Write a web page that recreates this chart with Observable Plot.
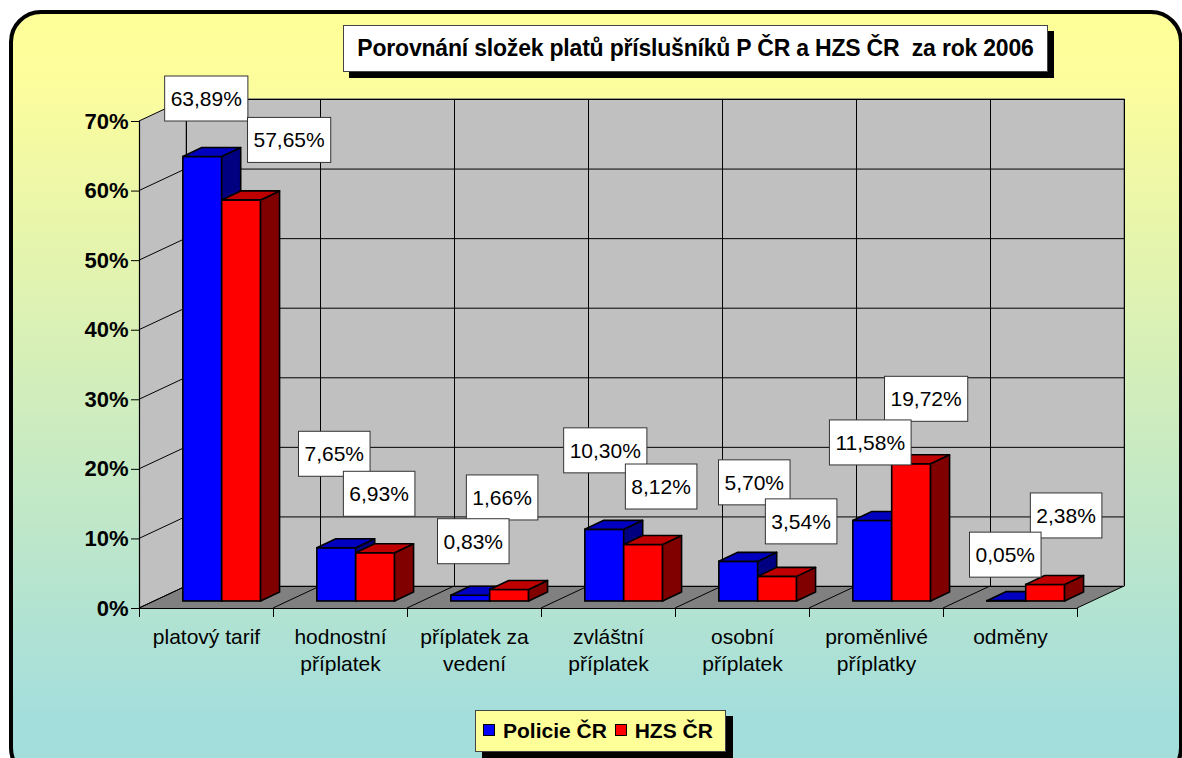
<!DOCTYPE html>
<html><head><meta charset="utf-8">
<script src="https://cdn.jsdelivr.net/npm/d3@7"></script>
<script src="https://cdn.jsdelivr.net/npm/@observablehq/plot@0.6"></script>
<style>
html,body{margin:0;padding:0;background:#fff;}
#wrap{position:relative;width:1182px;height:758px;overflow:hidden;background:#fff;font-family:"Liberation Sans",Arial,sans-serif;}
#frame{position:absolute;left:9px;top:10px;width:1174px;height:770px;box-sizing:border-box;border:4.5px solid #000;border-radius:32px;background:linear-gradient(to bottom,#ffff99 0%,#fdfd9c 8%,#a4dedc 92%,#a2dddc 100%);}
#chart{position:absolute;left:0;top:0;}
#title{position:absolute;left:343px;top:25px;width:705px;height:47px;box-sizing:border-box;background:#fff;border:1px solid #444;box-shadow:6px 6px 0 #000;font-weight:bold;font-size:23px;line-height:45px;text-align:center;white-space:pre;color:#000;letter-spacing:-0.2px;}
#legend{position:absolute;left:475px;top:710px;width:251px;height:42px;box-sizing:border-box;background:#ffff99;border:1px solid #444;box-shadow:7px 6px 0 #000;font-weight:bold;font-size:21px;line-height:40px;white-space:nowrap;color:#000;padding-left:7px;}
.sw{display:inline-block;width:10px;height:10px;border:1px solid #000;vertical-align:middle;margin-right:8px;position:relative;top:-2px;}
</style>
</head><body>
<div id="wrap">
  <div id="frame"></div>
  <div id="chart"></div>
  <div id="title"></div>
  <div id="legend"></div>
</div>
<script>
// ---- data ----
const categories = ["platový tarif","hodnostní\npříplatek","příplatek za\nvedení","zvláštní\npříplatek","osobní\npříplatek","proměnlivé\npříplatky","odměny"];
const seriesNames = ["Policie ČR","HZS ČR"];
const policie = [63.89,7.65,0.83,10.30,5.70,11.58,0.05];
const hzs = [57.65,6.93,1.66,8.12,3.54,19.72,2.38];
const yTicks = [0,10,20,30,40,50,60,70];
const titleText = "Porovnání složek platů příslušníků P ČR a HZS ČR  za rok 2006";

// ---- layout / style (not data) ----
const colors = {
  Policie: {front:"#0000ff", top:"#0000c0", side:"#000080"},
  HZS: {front:"#ff0000", top:"#c00000", side:"#800000"}
};
const DEPTH = [47,-22];        // full floor depth, px
const FRONT = [15.7,-7];       // bar front plane offset, px
const BAR_D = [19,-9];         // bar depth, px
const GAP = 0.21, BW = 0.29;   // fraction of category band
// per-label nudges (px) from bar front-top centre, imitating Excel's collision placement
const nudgeP = [[4,-58],[-2,-94],[3,-54],[1,-79],[16,-79],[-2,-78],[-1,-46]];
const nudgeH = [[48,-60],[4,-59],[-7,-92],[18,-58],[24,-55],[15,-65],[21,-69]];

const fmt = v => d3.format(".2f")(v).replace(".", ",") + "%";
const rows = (vals, s) => vals.map((v, i) => ({i, v, s}));
const blue = rows(policie, 0), red = rows(hzs, 1);
const xl = d => d.i + GAP + d.s * BW, xr = d => d.i + GAP + (d.s + 1) * BW;

function svgEl(tag, attrs) {
  const e = document.createElementNS("http://www.w3.org/2000/svg", tag);
  for (const k in attrs) e.setAttribute(k, attrs[k]);
  return e;
}
const poly = pts => pts.map(p => p.join(",")).join(" ");

// walls & floor (sheared parts)
function walls(index, {x, y}) {
  const g = svgEl("g", {});
  const [DX, DY] = DEPTH;
  const x0 = x(0), x7 = x(categories.length), y0 = y(0), yT = y(yTicks[yTicks.length-1]);
  g.appendChild(svgEl("polygon", {points: poly([[x0,y0],[x0,yT],[x0+DX,yT+DY],[x0+DX,y0+DY]]), fill:"#c0c0c0"}));
  g.appendChild(svgEl("polygon", {points: poly([[x0,y0],[x7,y0],[x7+DX,y0+DY],[x0+DX,y0+DY]]), fill:"#808080"}));
  for (const t of yTicks) g.appendChild(svgEl("line", {x1:x0, y1:y(t), x2:x0+DX, y2:y(t)+DY, stroke:"#000", "stroke-width":1}));
  for (let k = 0; k <= categories.length; k++) g.appendChild(svgEl("line", {x1:x(k), y1:y0, x2:x(k)+DX, y2:y0+DY, stroke:"#000", "stroke-width":1}));
  return g;
}

// top and side faces of 3D bars
function barFaces(data, col) {
  return function(index, {x, y}) {
    const g = svgEl("g", {stroke:"#000", "stroke-width":1.6, "stroke-linejoin":"round"});
    for (const d of data) {
      const X0 = x(xl(d)) + FRONT[0], X1 = x(xr(d)) + FRONT[0];
      const Yt = y(d.v) + FRONT[1], Yb = y(0) + FRONT[1];
      const [bx, by] = BAR_D;
      g.appendChild(svgEl("polygon", {points: poly([[X1,Yt],[X1+bx,Yt+by],[X1+bx,Yb+by],[X1,Yb]]), fill: col.side}));
      g.appendChild(svgEl("polygon", {points: poly([[X0,Yt],[X1,Yt],[X1+bx,Yt+by],[X0+bx,Yt+by]]), fill: col.top}));
    }
    return g;
  };
}

// boxed data labels
const ctx = document.createElement("canvas").getContext("2d");
ctx.font = "21px 'Liberation Sans', Arial";
function labels(index, {x, y}) {
  const g = svgEl("g", {});
  const items = [];
  for (const [data, nudge] of [[blue, nudgeP],[red, nudgeH]]) {
    for (const d of data) {
      const cx = (x(xl(d)) + x(xr(d))) / 2 + FRONT[0] + nudge[d.i][0];
      const cy = y(d.v) + FRONT[1] + nudge[d.i][1];
      items.push({cx, cy, t: fmt(d.v)});
    }
  }
  items.sort((a, b) => a.cy - b.cy);
  for (const it of items) {
    const w = ctx.measureText(it.t).width + 12, h = 45;
    g.appendChild(svgEl("rect", {x: it.cx - w/2, y: it.cy - h/2, width: w, height: h, fill:"#fff", stroke:"#333", "stroke-width":1}));
    const t = svgEl("text", {x: it.cx, y: it.cy, "text-anchor":"middle", dy:"0.36em", "font-size":21, fill:"#000", "font-family":"Liberation Sans, Arial, sans-serif"});
    t.textContent = it.t;
    g.appendChild(t);
  }
  return g;
}

const chart = Plot.plot({
  width: 1182, height: 758,
  marginLeft: 139, marginRight: 105, marginTop: 121, marginBottom: 150,
  x: {type: "linear", domain: [0, categories.length], axis: null, label: null},
  y: {domain: [0, 70], axis: null, label: null},
  style: {background: "transparent", fontFamily: "Liberation Sans, Arial, sans-serif", color: "#000", overflow: "visible"},
  marks: [
    walls,
    Plot.rect([0], {x1: () => 0, x2: () => categories.length, y1: () => 0, y2: () => 70, dx: DEPTH[0], dy: DEPTH[1], fill: "#c0c0c0", stroke: "#808080", strokeWidth: 1.5}),
    Plot.ruleY(yTicks, {x1: () => 0, x2: () => categories.length, dx: DEPTH[0], dy: DEPTH[1], stroke: "#000", strokeWidth: 1}),
    Plot.ruleX(d3.range(categories.length + 1), {y1: () => 0, y2: () => 70, dx: DEPTH[0], dy: DEPTH[1], stroke: "#000", strokeWidth: 1}),
    Plot.ruleX([0], {y1: () => 0, y2: () => 70, stroke: "#000", strokeWidth: 1.2}),
    Plot.ruleY([0], {x1: () => 0, x2: () => categories.length, stroke: "#000", strokeWidth: 1.2}),
    Plot.axisY(yTicks, {label: null, tickFormat: d => d + "%", tickSize: 8, tickPadding: 3, fontSize: 22, fontWeight: "bold", stroke: "#000"}),
    Plot.axisX(d3.range(categories.length + 1), {label: null, tickSize: 9, tickFormat: () => "", stroke: "#000"}),
    Plot.axisX(d3.range(categories.length).map(i => i + 0.5), {label: null, tickSize: 0, tickPadding: 16, tickFormat: d => categories[Math.floor(d)], fontSize: 21, lineHeight: 1.29}),
    Plot.rect(blue, {x1: xl, x2: xr, y1: () => 0, y2: "v", dx: FRONT[0], dy: FRONT[1], fill: colors.Policie.front, stroke: "#000", strokeWidth: 1.6}),
    barFaces(blue, colors.Policie),
    Plot.rect(red, {x1: xl, x2: xr, y1: () => 0, y2: "v", dx: FRONT[0], dy: FRONT[1], fill: colors.HZS.front, stroke: "#000", strokeWidth: 1.6}),
    barFaces(red, colors.HZS),
    labels
  ]
});
document.getElementById("chart").appendChild(chart);
document.getElementById("title").textContent = titleText;
const lg = document.getElementById("legend");
lg.innerHTML = `<span class="sw" style="background:${colors.Policie.front}"></span>${seriesNames[0]} <span class="sw" style="background:${colors.HZS.front};margin-left:2px"></span>${seriesNames[1]}`;
</script>
</body></html>
